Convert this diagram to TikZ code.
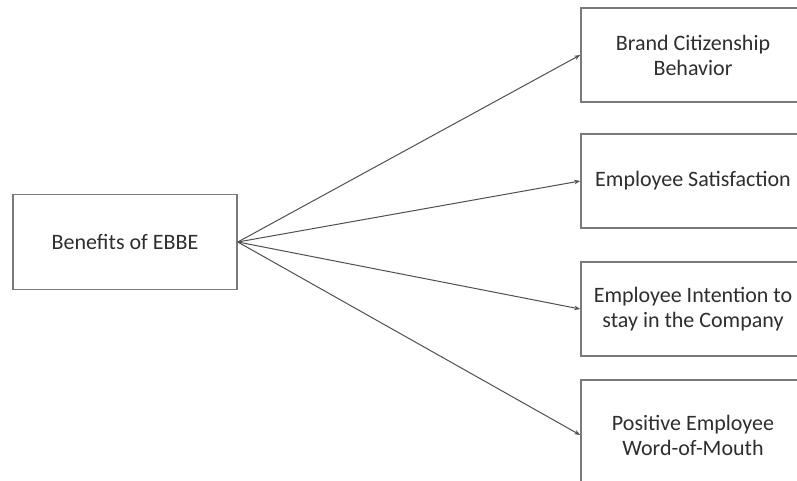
\documentclass[tikz,border=0pt]{standalone}
\usepackage{fontspec}
\setmainfont{Carlito}
\usetikzlibrary{arrows.meta}
\definecolor{boxline}{HTML}{7A7A7A}
\definecolor{txt}{HTML}{2E2E2E}
\definecolor{link}{HTML}{505050}
\begin{document}
\begin{tikzpicture}[x=1pt,y=-1pt,
  box/.style={draw=boxline, line width=1.6pt, fill=white, minimum width=224pt,
    align=center, text=txt, font=\fontsize{22}{25}\selectfont, inner sep=0pt},
  link/.style={draw=link, line width=1pt, -{Stealth[length=6pt,width=4.5pt]}}]
\useasboundingbox (0,0) rectangle (797,480);
\clip (0,0) rectangle (797,480);
\fill[white] (0,0) rectangle (797,480);
% source box
\node[box, minimum height=95pt] (src) at (125,242) {Benefits of EBBE};
% outcome boxes (right edges run off the page)
\node[box, minimum height=94pt] (b1) at (693,55) {Brand Citizenship\\Behavior};
\node[box, minimum height=94pt] (b2) at (693,181) {Employee Satisfaction};
\node[box, minimum height=94pt] (b3) at (693,309) {Employee Intention to\\stay in the Company};
\node[box, minimum height=110pt] (b4) at (693,435) {Positive Employee\\Word-of-Mouth};
% connectors
\draw[link] (src.east) -- (b1.west);
\draw[link] (src.east) -- (b2.west);
\draw[link] (src.east) -- (b3.west);
\draw[link] (src.east) -- (b4.west);
\end{tikzpicture}
\end{document}
